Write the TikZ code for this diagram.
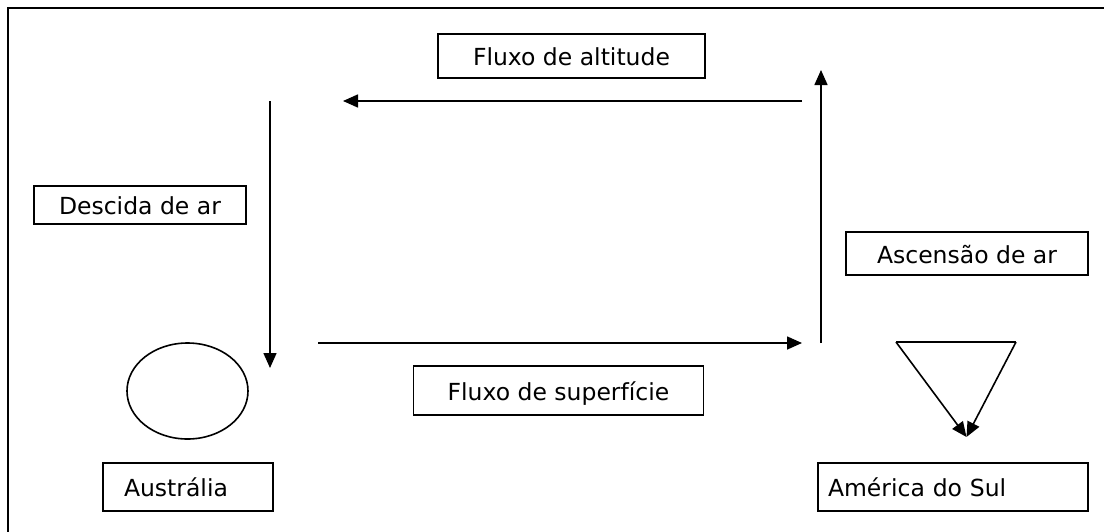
\documentclass[tikz,border=0pt]{standalone}
\usepackage{fontspec}
\setmainfont{DejaVu Sans}
\usetikzlibrary{arrows.meta,shapes.geometric}
\begin{document}
\begin{tikzpicture}[x=1pt,y=-1pt,
  lbl/.style={draw=black,line width=1.8pt,font=\fontsize{23.5}{27}\selectfont,inner sep=0pt,text height=19pt,text depth=0pt},
  flow/.style={line width=1.6pt,-{Triangle[length=15pt,width=13pt]}},
  frameline/.style={line width=2.5pt}]
\useasboundingbox (0,0) rectangle (1104,531);
\fill[white] (0,0) rectangle (1104,531);
% outer frame (right and bottom edges beyond the picture)
\draw[frameline] (8,540) -- (8,8) -- (1120,8);
% labelled boxes
\node[lbl,minimum width=267pt,minimum height=44pt] (alt) at (571.5,56) {Fluxo de altitude};
\node[lbl,minimum width=212pt,minimum height=38pt] (desc) at (140,205) {Descida de ar};
\node[lbl,minimum width=242pt,minimum height=43pt] (asc) at (967,253.5) {Ascensão de ar};
\node[lbl,minimum width=290pt,minimum height=49pt] (sup) at (558.5,390.5) {Fluxo de superfície};
\node[lbl,minimum width=170pt,minimum height=48pt,text width=128pt,align=left] (aus) at (188,487) {Austrália};
\node[lbl,minimum width=270pt,minimum height=48pt,text width=250pt,align=left] (ams) at (953,487) {América do Sul};
% ellipse (Australia)
\node[draw,line width=1.6pt,ellipse,minimum width=121pt,minimum height=96pt,inner sep=0pt] (ell) at (187.5,391) {};
% arrow end points
\coordinate (tr) at (802,101);
\coordinate (tl) at (343,101);
\coordinate (ls) at (270,101);
\coordinate (le) at (270,368);
\coordinate (bs) at (318,343);
\coordinate (be) at (802,343);
\coordinate (rs) at (821,343);
\coordinate (re) at (821,70);
\draw[flow] (tr) -- (tl);
\draw[flow] (ls) -- (le);
\draw[flow] (bs) -- (be);
\draw[flow] (rs) -- (re);
% triangle (South America)
\coordinate (ta) at (896,342);
\coordinate (tb) at (1016,342);
\coordinate (tp) at (966.5,437);
\draw[line width=1.6pt] (ta) -- (tb);
\draw[line width=1.6pt,-{Triangle[length=15pt,width=13pt]}] (ta) -- (tp);
\draw[line width=1.6pt,-{Triangle[length=15pt,width=13pt]}] (tb) -- (tp);
\end{tikzpicture}
\end{document}
